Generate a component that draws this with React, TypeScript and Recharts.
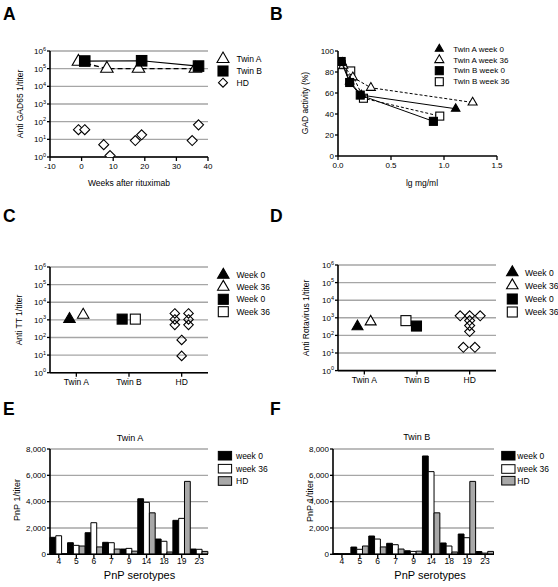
import React from 'react';
import { ScatterChart, Scatter, XAxis, YAxis, CartesianGrid, BarChart, Bar } from 'recharts';

const FONT = '"Liberation Sans", Arial, Helvetica, sans-serif';

// ---------- Panel A: anti-GAD65 titers after rituximab ----------
const gadWeeksTwinA = [-1, 8, 18, 36];
const gadTitersTwinA = [250000, 100000, 100000, 100000];
const gadWeeksTwinB = [1, 19, 37];
const gadTitersTwinB = [270000, 280000, 140000];
const gadWeeksHD = [-1, 1, 7, 9, 17, 19, 35, 37];
const gadTitersHD = [35, 35, 5, 1.2, 8.5, 18, 8.5, 66];
const weekTicks = [-10, 0, 10, 20, 30, 40];
const logTicks = [1, 10, 100, 1000, 10000, 100000, 1000000];

// ---------- Panel B: GAD activity vs Ig concentration ----------
const concTwinAWeek0 = [0.04, 0.11, 0.22, 1.11];
const actTwinAWeek0 = [89, 71, 58, 45];
const concTwinAWeek36 = [0.05, 0.14, 0.31, 1.27];
const actTwinAWeek36 = [86, 75, 65, 51];
const concTwinBWeek0 = [0.03, 0.11, 0.21, 0.9];
const actTwinBWeek0 = [90, 70, 58, 33];
const concTwinBWeek36 = [0.03, 0.12, 0.24, 0.96];
const actTwinBWeek36 = [87, 81, 55, 38];
const concTicks = [0, 0.5, 1, 1.5];
const actTicks = [0, 20, 40, 60, 80, 100];

// ---------- Panels C/D: groups ----------
const groupLabels = ['Twin A', 'Twin B', 'HD'];
const groupTicks = [1, 2, 3];

// Panel C: anti-TT (x = group position incl. jitter)
const ttTwinAW0Pos = [0.87];
const ttTwinAW0 = [1100];
const ttTwinAW36Pos = [1.13];
const ttTwinAW36 = [1900];
const ttTwinBW0Pos = [1.87];
const ttTwinBW0 = [1100];
const ttTwinBW36Pos = [2.12];
const ttTwinBW36 = [1100];
const ttHDPos = [2.87, 2.87, 2.87, 3.13, 3.13, 3.13, 3.0, 3.0];
const ttHD = [2300, 1050, 520, 2300, 1050, 520, 72, 9];

// Panel D: anti-rotavirus
const rotaTwinAW0Pos = [0.87];
const rotaTwinAW0 = [320];
const rotaTwinAW36Pos = [1.12];
const rotaTwinAW36 = [600];
const rotaTwinBW0Pos = [1.99];
const rotaTwinBW0 = [340];
const rotaTwinBW36Pos = [1.79];
const rotaTwinBW36 = [690];
const rotaHDPos = [2.82, 3.0, 3.2, 3.0, 3.0, 3.0, 2.88, 3.1];
const rotaHD = [1300, 1300, 1300, 700, 360, 165, 21, 21];

// ---------- Panels E/F: pneumococcal serotypes ----------
const serotypes = ['4', '5', '6', '7', '9', '14', '18', '19', '23'];
const pnpTwinAWeek0 = [1290, 880, 1640, 910, 400, 4220, 1160, 2580, 400];
const pnpTwinAWeek36 = [1410, 680, 2400, 880, 450, 3950, 990, 2730, 380];
const pnpTwinBWeek0 = [60, 550, 1390, 835, 270, 7470, 860, 1540, 210];
const pnpTwinBWeek36 = [50, 380, 1160, 730, 220, 6280, 630, 1260, 90];
const pnpHD = [50, 630, 560, 400, 240, 3150, 175, 5540, 220];
const pnpTicks = [0, 2000, 4000, 6000, 8000];

const zip = (xs: number[], ys: number[]) => xs.map((x, i) => ({ x, y: ys[i] }));
const barsTwinA = serotypes.map((s, i) => ({ s, w0: pnpTwinAWeek0[i], w36: pnpTwinAWeek36[i], hd: pnpHD[i] }));
const barsTwinB = serotypes.map((s, i) => ({ s, w0: pnpTwinBWeek0[i], w36: pnpTwinBWeek36[i], hd: pnpHD[i] }));

// ---------- styles ----------
const AXIS = { stroke: '#000', strokeWidth: 1.6 };
const TICKLINE = { stroke: '#000', strokeWidth: 1.3 };
const GRID = '#a6a6a6';
const TICKFONT = { fontSize: 8, fill: '#000', fontFamily: FONT };

// ---------- shapes ----------
const triPath = (cx: number, cy: number, s: number) => {
  const h = s * 0.866;
  return `M${cx},${cy - (2 * h) / 3}L${cx + s / 2},${cy + h / 3}L${cx - s / 2},${cy + h / 3}Z`;
};
const TriangleMark = ({ cx, cy, s, fill }: any) => (
  <path d={triPath(cx, cy, s)} fill={fill} stroke="#000" strokeWidth={1.1} strokeLinejoin="miter" />
);
const SquareMark = ({ cx, cy, s, fill }: any) => (
  <rect x={cx - s / 2} y={cy - s / 2} width={s} height={s} fill={fill} stroke="#000" strokeWidth={1.1} />
);
const DiamondMark = ({ cx, cy, s, fill }: any) => (
  <path d={`M${cx},${cy - s / 2}L${cx + s / 2},${cy}L${cx},${cy + s / 2}L${cx - s / 2},${cy}Z`} fill={fill} stroke="#000" strokeWidth={1.1} />
);
const triShape = (s: number, fill: string) => (p: any) => <TriangleMark cx={p.cx} cy={p.cy} s={s} fill={fill} />;
const sqShape = (s: number, fill: string) => (p: any) => <SquareMark cx={p.cx} cy={p.cy} s={s} fill={fill} />;
const diaShape = (s: number, fill: string) => (p: any) => <DiamondMark cx={p.cx} cy={p.cy} s={s} fill={fill} />;

function PowTick(props: any) {
  const { x, y, payload } = props;
  const e = Math.round(Math.log10(payload.value));
  return (
    <text x={x} y={y} dy={3} textAnchor="end" fontFamily={FONT} fontSize={8} fill="#000">
      10<tspan dy={-3.5} fontSize={5.5}>{e}</tspan>
    </text>
  );
}

const LogY = () => null;

function PanelA() {
  return (
    <ScatterChart width={280} height={200} margin={{ top: 51, right: 72, bottom: 13, left: 0 }}>
      <CartesianGrid vertical={false} stroke={GRID} strokeWidth={1.4} />
      <XAxis type="number" dataKey="x" domain={[-10, 40]} ticks={weekTicks} interval={0} allowDataOverflow
        axisLine={AXIS} tickLine={TICKLINE} tickSize={4} height={30} tick={TICKFONT} />
      <YAxis type="number" dataKey="y" scale="log" domain={[1, 1000000]} ticks={logTicks} interval={0} allowDataOverflow
        width={50} axisLine={AXIS} tickLine={TICKLINE} tickSize={3} tickMargin={1} tick={<PowTick />} />
      <Scatter data={zip(gadWeeksHD, gadTitersHD)} shape={diaShape(10, '#fff')} isAnimationActive={false} />
      <Scatter data={zip(gadWeeksTwinA, gadTitersTwinA)} shape={triShape(12.5, '#fff')} stroke="#000"
        line={{ stroke: '#000', strokeWidth: 1.4, strokeDasharray: '5 3' }} lineType="joint" isAnimationActive={false} />
      <Scatter data={zip(gadWeeksTwinB, gadTitersTwinB)} shape={sqShape(10.5, '#000')} stroke="#000"
        line={{ stroke: '#000', strokeWidth: 1.2 }} lineType="joint" isAnimationActive={false} />
    </ScatterChart>
  );
}

function PanelB() {
  return (
    <ScatterChart width={278} height={200} margin={{ top: 51, right: 61, bottom: 14, left: 0 }}>
      <XAxis type="number" dataKey="x" domain={[0, 1.5]} ticks={concTicks} interval={0} allowDataOverflow
        tickFormatter={(v: number) => v.toFixed(1)}
        axisLine={AXIS} tickLine={TICKLINE} tickSize={4} height={30} tick={TICKFONT} />
      <YAxis type="number" dataKey="y" domain={[0, 100]} ticks={actTicks} interval={0} allowDataOverflow
        width={58} axisLine={AXIS} tickLine={TICKLINE} tickSize={3} tickMargin={1} tick={TICKFONT} />
      <Scatter data={zip(concTwinBWeek36, actTwinBWeek36)} shape={sqShape(8, '#fff')} stroke="#000"
        line={{ stroke: '#000', strokeWidth: 1, strokeDasharray: '3 2' }} lineType="joint" isAnimationActive={false} />
      <Scatter data={zip(concTwinAWeek36, actTwinAWeek36)} shape={triShape(9, '#fff')} stroke="#000"
        line={{ stroke: '#000', strokeWidth: 1, strokeDasharray: '3 2' }} lineType="joint" isAnimationActive={false} />
      <Scatter data={zip(concTwinAWeek0, actTwinAWeek0)} shape={triShape(8.5, '#000')} stroke="#000"
        line={{ stroke: '#000', strokeWidth: 1 }} lineType="joint" isAnimationActive={false} />
      <Scatter data={zip(concTwinBWeek0, actTwinBWeek0)} shape={sqShape(8, '#000')} stroke="#000"
        line={{ stroke: '#000', strokeWidth: 1 }} lineType="joint" isAnimationActive={false} />
    </ScatterChart>
  );
}

function GroupPanel(props: { top: number; left: number; bottom: number; yWidth: number; right: number; sets: any[] }) {
  return (
    <ScatterChart width={props.left === 0 ? 280 : 278} height={180}
      margin={{ top: props.top, right: props.right, bottom: props.bottom, left: 0 }}>
      <CartesianGrid vertical={false} stroke={GRID} strokeWidth={1.4} />
      <XAxis type="number" dataKey="x" domain={[0.5, 3.5]} ticks={groupTicks} interval={0} allowDataOverflow
        tickFormatter={(v: number) => groupLabels[v - 1]}
        axisLine={AXIS} tickLine={TICKLINE} tickSize={4} height={22} tick={{ ...TICKFONT, fontSize: 8.5 }} />
      <YAxis type="number" dataKey="y" scale="log" domain={[1, 1000000]} ticks={logTicks} interval={0} allowDataOverflow
        width={props.yWidth} axisLine={AXIS} tickLine={TICKLINE} tickSize={3} tickMargin={1} tick={<PowTick />} />
      {props.sets.map((st, i) => (
        <Scatter key={i} data={st.data} shape={st.shape} isAnimationActive={false} />
      ))}
    </ScatterChart>
  );
}

function PnPPanel(props: { data: any[]; width: number; yWidth: number; right: number }) {
  return (
    <BarChart width={props.width} height={187} data={props.data} barGap={0} barSize={5.8}
      margin={{ top: 49, right: props.right, bottom: 12.7, left: 0 }}>
      <CartesianGrid vertical={false} stroke={GRID} strokeWidth={1.4} />
      <XAxis dataKey="s" interval={0} axisLine={AXIS} tickLine={TICKLINE} tickSize={4} tickMargin={0} height={20}
        tick={{ ...TICKFONT, fontSize: 8.5 }} />
      <YAxis domain={[0, 8000]} ticks={pnpTicks} interval={0} allowDataOverflow width={props.yWidth}
        tickFormatter={(v: number) => v.toLocaleString('en-US')}
        axisLine={AXIS} tickLine={TICKLINE} tickSize={3} tickMargin={1} tick={TICKFONT} />
      <Bar dataKey="w0" fill="#000" stroke="#000" strokeWidth={1} isAnimationActive={false} />
      <Bar dataKey="w36" fill="#fff" stroke="#000" strokeWidth={1} isAnimationActive={false} />
      <Bar dataKey="hd" fill="#a8a8a8" stroke="#000" strokeWidth={1} isAnimationActive={false} />
    </BarChart>
  );
}

const T = (p: any) => <text fontFamily={FONT} fill="#000" fontSize={8.5} dominantBaseline="central" {...p} />;
const YTitle = ({ x, y, children, fontSize = 8.5 }: any) => (
  <T x={x} y={y} textAnchor="middle" fontSize={fontSize} transform={`rotate(-90 ${x} ${y})`}>{children}</T>
);
const Letter = ({ x, y, children }: any) => (
  <text x={x} y={y} fontFamily={FONT} fontWeight="bold" fontSize={17.5} fill="#000">{children}</text>
);

function LegendRows({ mx, tx, rows }: any) {
  return (
    <g>
      {rows.map((r: any, i: number) => (
        <g key={i}>
          {r.kind === 'tri' && <TriangleMark cx={mx} cy={r.y} s={r.s} fill={r.fill} />}
          {r.kind === 'sq' && <SquareMark cx={mx} cy={r.y} s={r.s} fill={r.fill} />}
          {r.kind === 'dia' && <DiamondMark cx={mx} cy={r.y} s={r.s} fill={r.fill} />}
          {r.kind === 'box' && <rect x={mx} y={r.y - 4.3} width={13.3} height={8.6} fill={r.fill} stroke="#000" strokeWidth={1} />}
          <T x={tx} y={r.y} fontSize={r.fs || 8.5}>{r.label}</T>
        </g>
      ))}
    </g>
  );
}

export default function App() {
  const cSets = [
    { data: zip(ttTwinAW0Pos, ttTwinAW0), shape: triShape(11.5, '#000') },
    { data: zip(ttTwinAW36Pos, ttTwinAW36), shape: triShape(11.5, '#fff') },
    { data: zip(ttTwinBW0Pos, ttTwinBW0), shape: sqShape(10, '#000') },
    { data: zip(ttTwinBW36Pos, ttTwinBW36), shape: sqShape(10, '#fff') },
    { data: zip(ttHDPos, ttHD), shape: diaShape(9.5, 'none') },
  ];
  const dSets = [
    { data: zip(rotaTwinAW0Pos, rotaTwinAW0), shape: triShape(11, '#000') },
    { data: zip(rotaTwinAW36Pos, rotaTwinAW36), shape: triShape(11, '#fff') },
    { data: zip(rotaTwinBW36Pos, rotaTwinBW36), shape: sqShape(10, '#fff') },
    { data: zip(rotaTwinBW0Pos, rotaTwinBW0), shape: sqShape(10, '#000') },
    { data: zip(rotaHDPos, rotaHD), shape: diaShape(10, 'none') },
  ];
  return (
    <div style={{ position: 'absolute', left: 0, top: 0, width: 558, height: 587, background: '#fff', overflow: 'hidden' }}>
      <div style={{ position: 'absolute', left: 0, top: 0 }}><PanelA /></div>
      <div style={{ position: 'absolute', left: 280, top: 0 }}><PanelB /></div>
      <div style={{ position: 'absolute', left: 0, top: 220 }}>
        <GroupPanel left={0} top={47} bottom={5.3} yWidth={50} right={72} sets={cSets} />
      </div>
      <div style={{ position: 'absolute', left: 280, top: 220 }}>
        <GroupPanel left={280} top={45} bottom={7.4} yWidth={58} right={62} sets={dSets} />
      </div>
      <div style={{ position: 'absolute', left: 0, top: 400 }}>
        <PnPPanel data={barsTwinA} width={280} yWidth={50} right={72} />
      </div>
      <div style={{ position: 'absolute', left: 280, top: 400 }}>
        <PnPPanel data={barsTwinB} width={278} yWidth={53} right={64} />
      </div>
      <svg width={558} height={587} style={{ position: 'absolute', left: 0, top: 0, pointerEvents: 'none' }}>
        <Letter x={3} y={19.5}>A</Letter>
        <Letter x={270} y={19.5}>B</Letter>
        <Letter x={3} y={221.5}>C</Letter>
        <Letter x={270} y={221.5}>D</Letter>
        <Letter x={3} y={415}>E</Letter>
        <Letter x={270} y={415}>F</Letter>

        <YTitle x={20} y={104}>Anti GAD65 1/titer</YTitle>
        <T x={129} y={183} textAnchor="middle">Weeks after rituximab</T>
        <YTitle x={305} y={103}>GAD activity (%)</YTitle>
        <T x={422} y={183} textAnchor="middle">lg mg/ml</T>
        <YTitle x={19} y={320}>Anti TT 1/titer</YTitle>
        <YTitle x={306} y={318}>Anti Rotavirus 1/titer</YTitle>
        <T x={130} y={437.5} textAnchor="middle" fontSize={9}>Twin A</T>
        <T x={416.7} y={437} textAnchor="middle" fontSize={9}>Twin B</T>
        <YTitle x={17} y={500} fontSize={9}>PnP 1/titer</YTitle>
        <YTitle x={310} y={501} fontSize={9}>PnP 1/titer</YTitle>
        <T x={139.5} y={575} textAnchor="middle" fontSize={11}>PnP serotypes</T>
        <T x={430} y={575} textAnchor="middle" fontSize={11}>PnP serotypes</T>

        <LegendRows mx={223} tx={236.5} rows={[
          { kind: 'tri', s: 12, fill: '#fff', y: 59, label: 'Twin A' },
          { kind: 'sq', s: 10, fill: '#000', y: 71, label: 'Twin B' },
          { kind: 'dia', s: 9, fill: '#fff', y: 82.7, label: 'HD' },
        ]} />
        <LegendRows mx={439.3} tx={453.3} rows={[
          { kind: 'tri', s: 8, fill: '#000', y: 49, label: 'Twin A week 0', fs: 8 },
          { kind: 'tri', s: 9, fill: '#fff', y: 60, label: 'Twin A week 36', fs: 8 },
          { kind: 'sq', s: 8, fill: '#000', y: 70.7, label: 'Twin  B week 0', fs: 8 },
          { kind: 'sq', s: 8, fill: '#fff', y: 81.7, label: 'Twin B  week 36', fs: 8 },
        ]} />
        <LegendRows mx={223.3} tx={236.5} rows={[
          { kind: 'tri', s: 11.5, fill: '#000', y: 275, label: 'Week 0' },
          { kind: 'tri', s: 11.5, fill: '#fff', y: 287, label: 'Week 36' },
          { kind: 'sq', s: 10, fill: '#000', y: 299.3, label: 'Week 0' },
          { kind: 'sq', s: 10, fill: '#fff', y: 311.7, label: 'Week 36' },
        ]} />
        <LegendRows mx={512.3} tx={525} rows={[
          { kind: 'tri', s: 11.5, fill: '#000', y: 272.5, label: 'Week 0' },
          { kind: 'tri', s: 11.5, fill: '#fff', y: 285.5, label: 'Week 36' },
          { kind: 'sq', s: 10, fill: '#000', y: 299, label: 'Week 0' },
          { kind: 'sq', s: 10, fill: '#fff', y: 312, label: 'Week 36' },
        ]} />
        <LegendRows mx={218.3} tx={236} rows={[
          { kind: 'box', fill: '#000', y: 455.7, label: 'week 0' },
          { kind: 'box', fill: '#fff', y: 468.7, label: 'week 36' },
          { kind: 'box', fill: '#a8a8a8', y: 481, label: 'HD' },
        ]} />
        <LegendRows mx={501.7} tx={517.3} rows={[
          { kind: 'box', fill: '#000', y: 455.7, label: 'week 0' },
          { kind: 'box', fill: '#fff', y: 469, label: 'week 36' },
          { kind: 'box', fill: '#a8a8a8', y: 480.7, label: 'HD' },
        ]} />
      </svg>
    </div>
  );
}
